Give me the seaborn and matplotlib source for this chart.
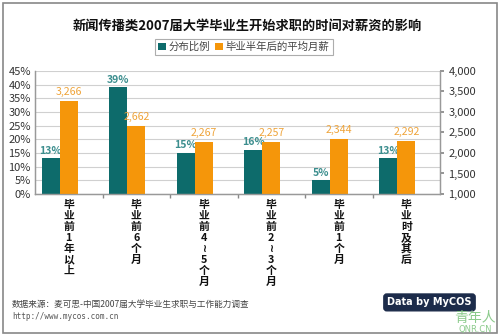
import matplotlib
matplotlib.use("Agg")
import matplotlib.pyplot as plt
import seaborn as sns
import pandas as pd
from matplotlib.patches import Rectangle
from matplotlib.ticker import FuncFormatter, MultipleLocator, FixedLocator

# ---- data ----
categories = ["毕业前1年以上", "毕业前6个月", "毕业前4~5个月", "毕业前2~3个月", "毕业前1个月", "毕业时及其后"]
tick_labels = ["毕业前1年以上", "毕业前6个月", "毕业前4≀5个月",
               "毕业前2≀3个月", "毕业前1个月", "毕业时及其后"]
share_pct = [13, 39, 15, 16, 5, 13]
salary = [3266, 2662, 2267, 2257, 2344, 2292]
series_names = ["分布比例", "毕业半年后的平均月薪"]

sns.set_theme(style="white")
plt.rcParams["font.family"] = ["Noto Sans CJK SC", "DejaVu Sans"]

teal = "#0D6B6B"
orange = "#F5960A"
teal_lbl = "#3C8E8E"
orange_lbl = "#EFA43A"

df1 = pd.DataFrame({"cat": categories, "series": series_names[0], "value": share_pct})
df2 = pd.DataFrame({"cat": categories, "series": series_names[1], "value": salary})

fig = plt.figure(figsize=(5, 3.36), dpi=100)
fig.patch.set_facecolor("white")
ax = fig.add_axes([0.07, 0.4226, 0.81, 0.3664])
ax2 = ax.twinx()

pal = {series_names[0]: teal, series_names[1]: orange}
sns.barplot(data=df1, x="cat", y="value", hue="series", hue_order=series_names,
            palette=pal, order=categories, width=0.54, dodge=True, ax=ax,
            legend=False, linewidth=0, saturation=1)
sns.barplot(data=df2, x="cat", y="value", hue="series", hue_order=series_names,
            palette=pal, order=categories, width=0.54, dodge=True, ax=ax2,
            legend=False, linewidth=0, saturation=1)


def real_container(a):
    for c in a.containers:
        pats = [p for p in c.patches if p is not None]
        if len(pats) == len(categories):
            return c
    return a.containers[-1]


c1 = real_container(ax)
c2 = real_container(ax2)

ax.set_ylim(0, 45)
ax2.set_ylim(1000, 4000)
off = 0.133
ax.set_xlim(-0.5 + off, len(categories) - 0.5 + off)

ax.yaxis.set_major_locator(MultipleLocator(5))
ax.yaxis.set_major_formatter(FuncFormatter(lambda v, p: f"{v:.0f}%"))
ax2.yaxis.set_major_locator(MultipleLocator(500))
ax2.yaxis.set_major_formatter(FuncFormatter(lambda v, p: f"{v:,.0f}"))

ax.set_axisbelow(True)
ax.grid(axis="y", color="#D0D0D0", linewidth=0.8)
ax.grid(axis="x", visible=False)

# category labels: written vertically, one character per line
ax.set_xticks([i + off for i in range(len(categories))])
ax.set_xticklabels([""] * len(categories))
step_pt = 11 * 72 / 100
for i, lab in enumerate(tick_labels):
    for j, ch in enumerate(lab):
        ax.annotate(ch, xy=(i + off, 0), xycoords=("data", "axes fraction"),
                    xytext=(0, -step_pt * (j + 1)), textcoords="offset points",
                    ha="center", va="center", fontsize=7.8, fontweight="bold",
                    color="#111111", annotation_clip=False)

ax.xaxis.set_minor_locator(FixedLocator([i + off + 0.5 for i in range(len(categories) - 1)]))
ax.tick_params(axis="x", which="major", length=0, pad=5)
ax.tick_params(axis="x", which="minor", length=3, color="#888888", bottom=True)
ax.tick_params(axis="y", length=0, labelsize=8, labelcolor="#333333", pad=3)
ax2.tick_params(axis="y", length=3, color="#888888", labelsize=8, labelcolor="#333333", pad=3)

for a in (ax, ax2):
    a.set_xlabel("")
    a.set_ylabel("")
    a.spines["top"].set_visible(False)
    for s in ("left", "right", "bottom"):
        a.spines[s].set_color("#999999")
        a.spines[s].set_linewidth(0.9)

ax.bar_label(c1, labels=[f"{v}%" for v in share_pct], padding=2,
             fontsize=7.6, color=teal_lbl, fontweight="bold")
ax2.bar_label(c2, labels=[f"{v:,}" for v in salary], padding=3,
              fontsize=7.6, color=orange_lbl)

fig.suptitle("新闻传播类2007届大学毕业生开始求职的时间对薪资的影响", x=0.494, y=0.945,
             fontsize=9.5, fontweight="bold", color="#111111")

handles = [c1.patches[0], c2.patches[0]]
leg = fig.legend(handles, series_names, loc="center", bbox_to_anchor=(0.488, 0.86), ncol=2,
                 fontsize=7.5, frameon=True, fancybox=False, edgecolor="#999999",
                 handlelength=0.7, handleheight=0.7, handletextpad=0.3, columnspacing=0.5,
                 borderpad=0.3, labelcolor="#444444")
leg.get_frame().set_linewidth(0.8)

fig.text(0.024, 0.093, "数据来源：麦可思-中国2007届大学毕业生求职与工作能力调查", fontsize=6.2,
         color="#444444", va="center")
fig.text(0.024, 0.058, "http://www.mycos.com.cn", fontsize=5.5, color="#555555", va="center",
         family="DejaVu Sans Mono")
fig.text(0.859, 0.10, "Data by MyCOS", fontsize=7, color="white", fontweight="bold",
         ha="center", va="center", family="DejaVu Sans",
         bbox=dict(boxstyle="round,pad=0.35,rounding_size=0.3", fc="#1C2B4A", ec="#1C2B4A"))
fig.text(0.95, 0.053, "青年人", fontsize=10, color="#8CCB8C", ha="center", va="center")
fig.text(0.95, 0.018, "QNR.CN", fontsize=6, color="#8CCB8C", ha="center", va="center",
         family="DejaVu Sans")

fig.add_artist(Rectangle((0.006, 0.009), 0.988, 0.982, transform=fig.transFigure,
                         fill=False, edgecolor="#888888", linewidth=1.2))

fig.savefig("out.png", dpi=100)
